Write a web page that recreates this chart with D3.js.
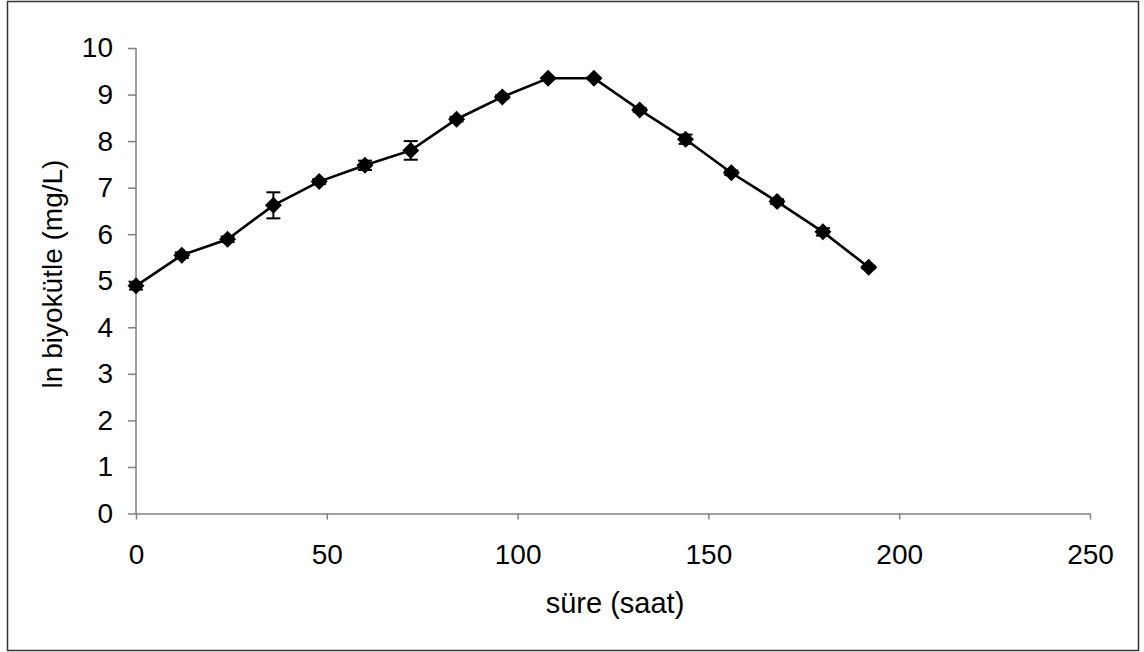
<!DOCTYPE html>
<html>
<head>
<meta charset="utf-8">
<script src="https://cdn.jsdelivr.net/npm/d3@7"></script>
<style>
  html, body { margin: 0; padding: 0; background: #fff; }
  svg { display: block; font-family: "Liberation Sans", Arial, sans-serif; }
</style>
</head>
<body>
<svg id="chart" width="1144" height="652"></svg>
<script>
// Sampling times (hours)
const hours = [0, 12, 24, 36, 48, 60, 72, 84, 96, 108, 120, 132, 144, 156, 168, 180, 192];
// ln biomass (mg/L)
const lnBiomass = [4.89, 5.55, 5.89, 6.62, 7.13, 7.48, 7.80, 8.47, 8.95, 9.35, 9.35, 8.67, 8.04, 7.32, 6.70, 6.05, 5.29];
// standard deviation for each sample
const errors = [0.08, 0.06, 0.06, 0.28, 0.05, 0.10, 0.20, 0.05, 0.04, 0.02, 0.02, 0.04, 0.10, 0.05, 0.05, 0.08, 0.03];

const xTicks = [0, 50, 100, 150, 200, 250];
const yTicks = [0, 1, 2, 3, 4, 5, 6, 7, 8, 9, 10];

const svg = d3.select("#chart");

// outer frame
svg.append("rect")
  .attr("x", 7.5).attr("y", 1.5)
  .attr("width", 1131).attr("height", 649)
  .attr("fill", "none").attr("stroke", "#333").attr("stroke-width", 1.5);

const x = d3.scaleLinear().domain([0, 250]).range([136, 1090]);
const y = d3.scaleLinear().domain([0, 10]).range([513.5, 48]);

const axisColor = "#808080";
const labelFont = "'Liberation Sans', Arial, sans-serif";

// x axis
const gx = svg.append("g")
  .attr("transform", `translate(0,${y(0)})`)
  .call(d3.axisBottom(x).tickValues(xTicks).tickSize(6).tickPadding(25).tickFormat(d3.format("d")));
// y axis
const gy = svg.append("g")
  .attr("transform", `translate(${x(0)},0)`)
  .call(d3.axisLeft(y).tickValues(yTicks).tickSize(8).tickPadding(15).tickFormat(d3.format("d")));

[gx, gy].forEach(g => {
  g.attr("font-size", null).attr("font-family", null);
  g.select(".domain").attr("stroke", axisColor).attr("stroke-width", 1.5);
  g.selectAll(".tick line").attr("stroke", axisColor).attr("stroke-width", 1.5);
  g.selectAll(".tick text").attr("fill", "#000")
    .style("font-size", "28px").style("font-family", labelFont);
});
gx.select(".domain").attr("d", `M${x(0)},0.5H${x(250)}`);
gy.select(".domain").attr("d", `M0,${y(0)}V${y(10)}`);

// axis titles
svg.append("text")
  .attr("x", 615).attr("y", 613)
  .attr("text-anchor", "middle")
  .style("font-size", "29px").style("font-family", labelFont)
  .text("süre (saat)");

svg.append("text")
  .attr("transform", `translate(62,274) rotate(-90)`)
  .attr("text-anchor", "middle")
  .style("font-size", "28px").style("font-family", labelFont)
  .text("ln biyokütle (mg/L)");

const data = hours.map((h, i) => ({ h, v: lnBiomass[i], e: errors[i] }));

// connecting line
svg.append("path")
  .datum(data)
  .attr("fill", "none")
  .attr("stroke", "#000")
  .attr("stroke-width", 2.6)
  .attr("d", d3.line().x(d => x(d.h)).y(d => y(d.v)));

// diamond markers
svg.append("g").selectAll("path")
  .data(data)
  .join("path")
  .attr("transform", d => `translate(${x(d.h)},${y(d.v)})`)
  .attr("d", "M0,-8.5L8.5,0L0,8.5L-8.5,0Z")
  .attr("fill", "#000");

// error bars, drawn over the markers
const eb = svg.append("g").attr("stroke", "#000").attr("stroke-width", 2);
data.forEach(d => {
  eb.append("line").attr("x1", x(d.h)).attr("x2", x(d.h))
    .attr("y1", y(d.v - d.e)).attr("y2", y(d.v + d.e));
  [d.v - d.e, d.v + d.e].forEach(val => {
    eb.append("line").attr("x1", x(d.h) - 7).attr("x2", x(d.h) + 7)
      .attr("y1", y(val)).attr("y2", y(val));
  });
});
</script>
</body>
</html>
